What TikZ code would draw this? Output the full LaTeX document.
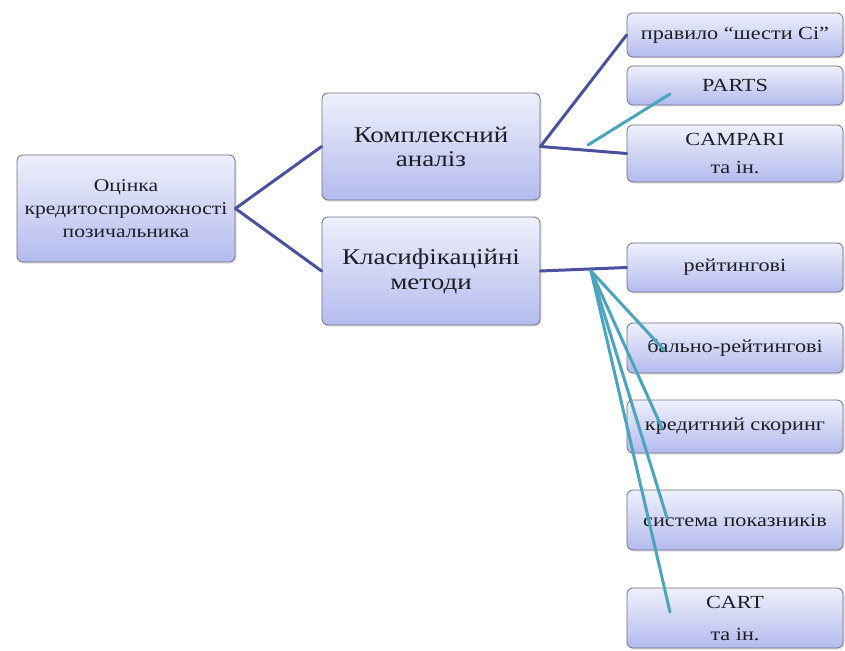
\documentclass[tikz,border=0pt]{standalone}
\usepackage{fontspec}
\setmainfont[FakeStretch=1.2]{Liberation Serif}
\usetikzlibrary{shadows}
\definecolor{boxtop}{HTML}{EEF0FB}
\definecolor{boxbot}{HTML}{B4BBEE}
\definecolor{boxline}{HTML}{6E7180}
\definecolor{darkcon}{HTML}{4A529E}
\definecolor{tealcon}{HTML}{4BA5BF}
\definecolor{txt}{HTML}{1E1E24}
\tikzset{
  box/.style={draw=boxline, line width=0.8pt, rounded corners=6pt,
    top color=boxtop, bottom color=boxbot, align=center, inner sep=1pt,
    text=txt,
    drop shadow={shadow xshift=1.5pt, shadow yshift=-1.5pt, opacity=0.25}},
  mainbox/.style={box, minimum width=218pt},
  rbox/.style={box, minimum width=216pt, font=\fontsize{18.5}{28}\selectfont},
  dcon/.style={draw=darkcon, line width=3pt, line cap=round},
  tcon/.style={draw=tealcon, line width=3pt, line cap=round}
}
\begin{document}
\begin{tikzpicture}[x=1pt,y=1pt]
\useasboundingbox (0,0) rectangle (845,-650);
\fill[white] (0,0) rectangle (845,-650);
% main boxes
\node[mainbox, minimum height=107pt, font=\fontsize{18}{23}\selectfont] (root) at (126,-208.5)
  {Оцінка\\кредитоспроможності\\позичальника};
\node[mainbox, minimum height=107pt, font=\fontsize{22.5}{24}\selectfont] (komp) at (431,-146.5)
  {Комплексний\\аналіз};
\node[mainbox, minimum height=108pt, font=\fontsize{22.5}{25}\selectfont] (klas) at (431,-271)
  {Класифікаційні\\методи};
% right boxes
\node[rbox, minimum height=44pt] (prav) at (735,-35) {правило “шести Сі”};
\node[rbox, minimum height=39pt] (parts) at (735,-85.5) {PARTS};
\node[rbox, minimum height=57pt] (camp) at (735,-153.5) {CAMPARI\\та ін.};
\node[rbox, minimum height=49pt] (reit) at (735,-267.5) {рейтингові};
\node[rbox, minimum height=50pt] (bal) at (735,-348) {бально-рейтингові};
\node[rbox, minimum height=53pt] (kred) at (735,-426.5) {кредитний скоринг};
\node[rbox, minimum height=60pt] (sys) at (735,-520) {система показників};
\node[rbox, minimum height=60pt, font=\fontsize{18.5}{32}\selectfont] (cart) at (735,-618) {CART\\та ін.};
% dark connectors
\path[dcon] (root.east) -- (komp.west);
\path[dcon] (root.east) -- (klas.west);
\path[dcon] (komp.east) -- (prav.west);
\path[dcon] (komp.east) -- (camp.west);
\path[dcon] (klas.east) -- (reit.west);
% teal connectors
\coordinate (t1) at (588,-145);
\coordinate (t2) at (670,-94);
\path[tcon] (t1) -- (t2);
\coordinate (hub) at (591,-271);
\coordinate (e1) at (664,-350);
\coordinate (e2) at (662,-428);
\coordinate (e3) at (667,-518);
\coordinate (e4) at (670,-612);
\path[tcon] (hub) -- (e1);
\path[tcon] (hub) -- (e2);
\path[tcon] (hub) -- (e3);
\path[tcon] (hub) -- (e4);
\end{tikzpicture}
\end{document}
